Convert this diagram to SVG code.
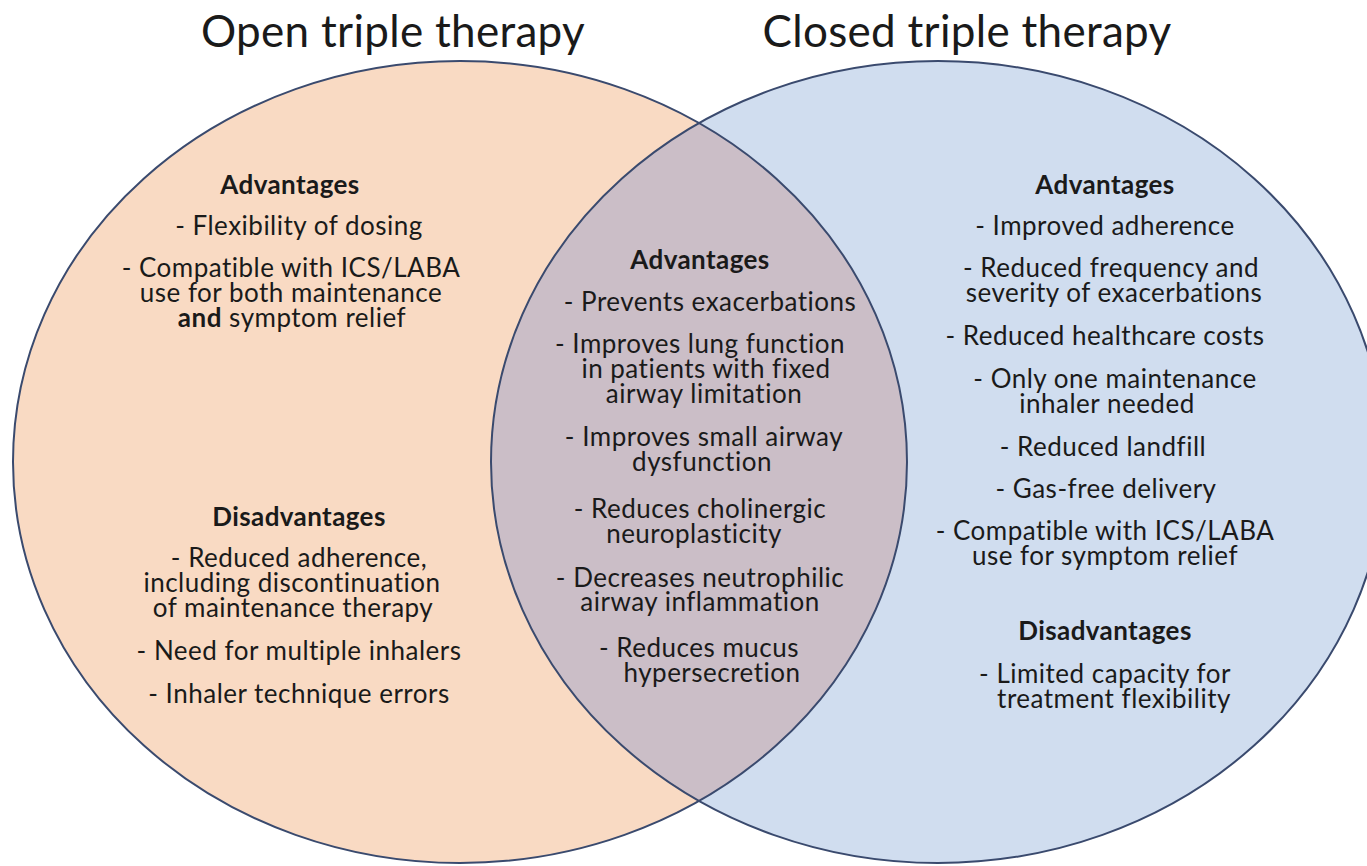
<svg xmlns="http://www.w3.org/2000/svg" width="1367" height="866" viewBox="0 0 1367 866">
  <style>
    text { font-family: Lato, "Liberation Sans", sans-serif; fill: #1a1a1a; text-anchor: middle; }
    .title { font-size: 44px; letter-spacing: 0.3px; }
    .head { font-size: 26px; font-weight: bold; letter-spacing: 0.4px; }
    .item { font-size: 26px; letter-spacing: 0.5px; }
    .ring { fill: none; stroke: #3a4a6e; stroke-width: 2; }
  </style>
  <defs>
    <clipPath id="clipLeft">
      <ellipse cx="460" cy="462" rx="447" ry="401"/>
    </clipPath>
  </defs>
  <rect width="1367" height="866" fill="#ffffff"/>

  <!-- circle fills -->
  <g id="open-circle">
    <ellipse cx="460" cy="462" rx="447" ry="401" fill="#f9dac3"/>
  </g>
  <g id="closed-circle">
    <ellipse cx="938" cy="462" rx="447" ry="401" fill="#d0ddef"/>
  </g>
  <g id="overlap">
    <ellipse cx="938" cy="462" rx="447" ry="401" fill="#cbbec7" clip-path="url(#clipLeft)"/>
  </g>
  <!-- outlines -->
  <g id="outlines">
    <ellipse class="ring" cx="460" cy="462" rx="447" ry="401"/>
    <ellipse class="ring" cx="938" cy="462" rx="447" ry="401"/>
  </g>

  <!-- titles -->
  <text class="title" x="393" y="47">Open triple therapy</text>
  <text class="title" x="967" y="47">Closed triple therapy</text>

  <!-- open triple therapy -->
  <g id="open-text">
    <text class="head" x="290" y="194">Advantages</text>
    <text class="item" x="299" y="235">- Flexibility of dosing</text>
    <text class="item" x="291" y="277">- Compatible with ICS/LABA</text>
    <text class="item" x="291" y="302">use for both maintenance</text>
    <text class="item" x="292" y="327"><tspan font-weight="bold">and</tspan> symptom relief</text>
    <text class="head" x="299" y="526">Disadvantages</text>
    <text class="item" x="299" y="567">- Reduced adherence,</text>
    <text class="item" x="292" y="592">including discontinuation</text>
    <text class="item" x="293" y="617">of maintenance therapy</text>
    <text class="item" x="299" y="660">- Need for multiple inhalers</text>
    <text class="item" x="299" y="703">- Inhaler technique errors</text>
  </g>

  <!-- shared -->
  <g id="shared-text">
    <text class="head" x="700" y="269">Advantages</text>
    <text class="item" x="710" y="311">- Prevents exacerbations</text>
    <text class="item" x="700" y="353">- Improves lung function</text>
    <text class="item" x="706" y="378">in patients with fixed</text>
    <text class="item" x="704" y="403">airway limitation</text>
    <text class="item" x="704" y="446">- Improves small airway</text>
    <text class="item" x="702" y="471">dysfunction</text>
    <text class="item" x="700" y="518">- Reduces cholinergic</text>
    <text class="item" x="694" y="543">neuroplasticity</text>
    <text class="item" x="700" y="587">- Decreases neutrophilic</text>
    <text class="item" x="700" y="611">airway inflammation</text>
    <text class="item" x="699" y="657">- Reduces mucus</text>
    <text class="item" x="712" y="682">hypersecretion</text>
  </g>

  <!-- closed triple therapy -->
  <g id="closed-text">
    <text class="head" x="1105" y="194">Advantages</text>
    <text class="item" x="1105" y="235">- Improved adherence</text>
    <text class="item" x="1111" y="277">- Reduced frequency and</text>
    <text class="item" x="1114" y="302">severity of exacerbations</text>
    <text class="item" x="1105" y="345">- Reduced healthcare costs</text>
    <text class="item" x="1115" y="388">- Only one maintenance</text>
    <text class="item" x="1107" y="413">inhaler needed</text>
    <text class="item" x="1103" y="456">- Reduced landfill</text>
    <text class="item" x="1106" y="498">- Gas-free delivery</text>
    <text class="item" x="1105" y="540">- Compatible with ICS/LABA</text>
    <text class="item" x="1105" y="565">use for symptom relief</text>
    <text class="head" x="1105" y="640">Disadvantages</text>
    <text class="item" x="1105" y="683">- Limited capacity for</text>
    <text class="item" x="1114" y="708">treatment flexibility</text>
  </g>
</svg>
